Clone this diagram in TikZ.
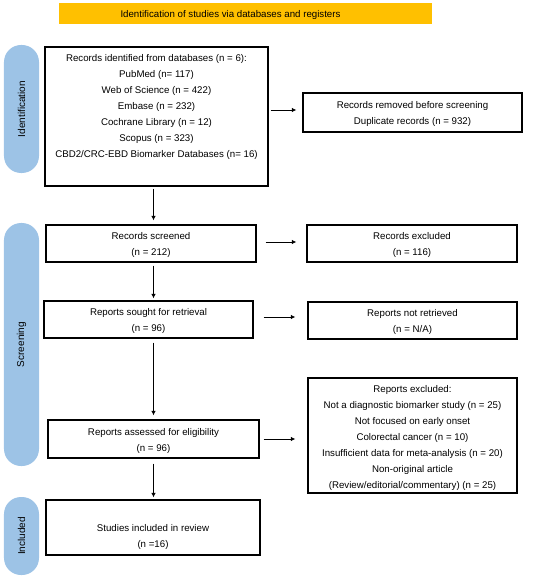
\documentclass[tikz,border=0pt]{standalone}
\usepackage{fontspec}
\setmainfont{Liberation Sans}
\usetikzlibrary{arrows.meta}
\definecolor{banner}{HTML}{FFC000}
\definecolor{pill}{HTML}{9DC3E6}
\begin{document}
\begin{tikzpicture}[x=1bp,y=-1bp,
  box/.style={draw=black, line width=1.2bp, inner sep=0pt},
  txt/.style={align=center, inner sep=0pt, yshift=-1.5bp, font=\fontsize{9.7bp}{16bp}\selectfont},
  phase/.style={fill=pill, rounded corners=17bp, inner sep=0pt},
  phasetxt/.style={rotate=90, inner sep=0pt, font=\fontsize{10bp}{12bp}\selectfont},
  arr/.style={-{Latex[length=4.5bp,width=4.5bp]}, line width=0.9bp},
]
\useasboundingbox (0,0) rectangle (550,579);
% banner
\node[fill=banner, minimum width=373bp, minimum height=21bp, inner sep=0pt] (ban) at (245.5,13.5) {};
\node[txt] (bantxt) at (230.5,13.5) {Identification of studies via databases and registers};
% phases
\node[phase, minimum width=35bp, minimum height=128bp] (p1) at (21.5,109) {};
\node[phasetxt] (p1t) at (p1) {Identification};
\node[phase, minimum width=35bp, minimum height=243bp] (p2) at (21.5,344.5) {};
\node[phasetxt] (p2t) at (p2) {Screening};
\node[phase, minimum width=35bp, minimum height=78bp] (p3) at (21.5,536) {};
\node[phasetxt] (p3t) at (p3) {Included};
% boxes
\node[box, minimum width=223bp, minimum height=139bp] (ident) at (156.5,116.5) {};
\node[txt] (identt) at (156.5,105) {Records identified from databases (n = 6):\\PubMed (n= 117)\\Web of Science (n = 422)\\Embase (n = 232)\\Cochrane Library (n = 12)\\Scopus (n = 323)\\CBD2/CRC-EBD Biomarker Databases (n= 16)};
\node[box, minimum width=219bp, minimum height=39bp] (removed) at (412.5,112.5) {};
\node[txt] (removedt) at (412.5,112) {Records removed before screening\\Duplicate records (n = 932)};
\node[box, minimum width=210bp, minimum height=37bp] (screened) at (151,243.5) {};
\node[txt] (screenedt) at (151,243) {Records screened\\(n = 212)};
\node[box, minimum width=210bp, minimum height=37bp] (excl) at (412,243.5) {};
\node[txt] (exclt) at (412,243) {Records excluded\\(n = 116)};
\node[box, minimum width=209bp, minimum height=37bp] (sought) at (148.5,319.5) {};
\node[txt] (soughtt) at (148.5,319) {Reports sought for retrieval\\(n = 96)};
\node[box, minimum width=209bp, minimum height=37bp] (notret) at (412.5,320.5) {};
\node[txt] (notrett) at (412.5,320) {Reports not retrieved\\(n = N/A)};
\node[box, minimum width=211bp, minimum height=38bp] (assess) at (153.5,439) {};
\node[txt] (assesst) at (153.5,439) {Reports assessed for eligibility\\(n = 96)};
\node[box, minimum width=209bp, minimum height=115bp] (rexcl) at (412.5,435.5) {};
\node[txt] (rexclt) at (412.5,436.5) {Reports excluded:\\Not a diagnostic biomarker study (n = 25)\\Not focused on early onset\\Colorectal cancer (n = 10)\\Insufficient data for meta-analysis (n = 20)\\Non-original article\\(Review/editorial/commentary) (n = 25)};
\node[box, minimum width=214bp, minimum height=55bp] (incl) at (153,527.5) {};
\node[txt] (inclt) at (153,535) {Studies included in review\\(n =16)};
% connectors
\coordinate (colx) at (153.5,0);
\draw[arr, shorten <=2bp, shorten >=4bp] (ident.south -| colx) -- (screened.north -| colx);
\draw[arr, shorten <=3bp, shorten >=2bp] (screened.south -| colx) -- (sought.north -| colx);
\draw[arr, shorten <=4bp, shorten >=4bp] (sought.south -| colx) -- (assess.north -| colx);
\draw[arr, shorten <=5bp, shorten >=2bp] (assess.south -| colx) -- (incl.north -| colx);
\draw[arr, shorten <=2bp, shorten >=6bp] (ident.east |- removed.west) ++(0,-2.5) coordinate (a1) (a1) -- (a1 -| removed.west);
\draw[arr, shorten <=9bp, shorten >=10bp] (screened.east |- excl.west) ++(0,-1.5) coordinate (a2) (a2) -- (a2 -| excl.west);
\draw[arr, shorten <=10bp, shorten >=12bp] (sought.east |- notret.west) ++(0,-3.5) coordinate (a3) (a3) -- (a3 -| notret.west);
\draw[arr, shorten <=4bp, shorten >=12bp] (assess.east) -- (assess.east -| rexcl.west);
\end{tikzpicture}
\end{document}
